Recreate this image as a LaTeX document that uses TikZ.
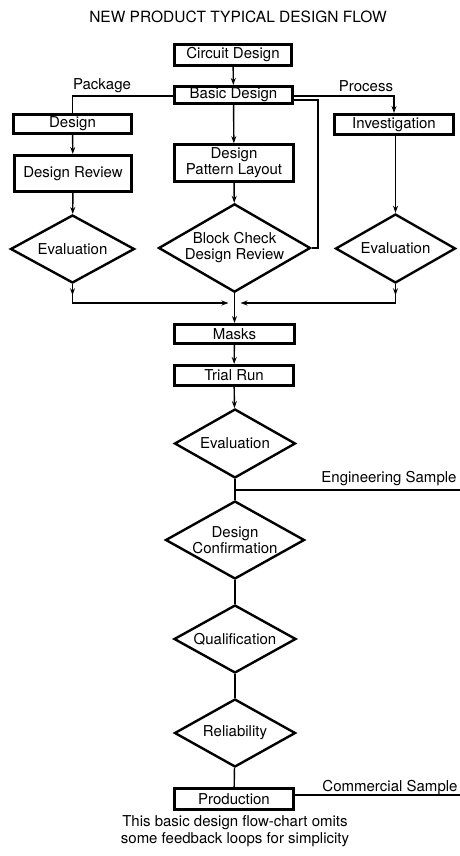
\documentclass[tikz,border=0pt]{standalone}
\usepackage{fontspec}
\setmainfont{TeX Gyre Heros}
\usetikzlibrary{shapes.geometric,arrows.meta}
\begin{document}
\begin{tikzpicture}[x=1pt,y=-1pt,
  every node/.style={font=\fontsize{15}{16}\selectfont},
  box/.style={draw,line width=2.6pt,inner sep=0pt,align=center},
  dia/.style={draw,diamond,line width=2.4pt,inner sep=0pt,align=center},
  lbl/.style={inner sep=0pt},
  conn/.style={line width=1.4pt},
  arr/.style={conn,-{Stealth[length=7pt,width=5pt]}}]
\useasboundingbox (0,0) rectangle (460,856);
% title
\node[lbl,font=\fontsize{15.5}{17}\selectfont] (title) at (238,17) {NEW PRODUCT TYPICAL DESIGN FLOW};
% boxes
\node[box,minimum width=117pt,minimum height=21pt] (circ) at (233,55) {Circuit Design};
\node[box,minimum width=118pt,minimum height=17.5pt] (basic) at (233.5,95) {Basic Design};
\node[box,minimum width=118pt,minimum height=19.5pt] (desl) at (72.5,124) {Design};
\node[box,minimum width=119pt,minimum height=20.5pt] (inv) at (394,124.5) {Investigation};
\node[box,minimum width=117.5pt,minimum height=36.5pt] (drev) at (73,173.5) {Design Review};
\node[box,minimum width=119pt,minimum height=37pt] (lay) at (234,163) {Design\\Pattern Layout};
\node[box,minimum width=120pt,minimum height=19.5pt] (masks) at (234.5,334) {Masks};
\node[box,minimum width=119pt,minimum height=20.5pt] (trial) at (234,375.5) {Trial Run};
\node[box,minimum width=119pt,minimum height=21pt] (prod) at (234,799) {Production};
% diamonds
\node[dia,shape aspect=1.8,minimum width=124pt,minimum height=68pt] (evl) at (72.5,249) {Evaluation};
\node[dia,shape aspect=1.72,minimum width=150pt,minimum height=86pt] (blk) at (234.5,248) {Block Check\\Design Review};
\node[dia,shape aspect=1.72,minimum width=120pt,minimum height=69pt] (evr) at (395.5,248.5) {Evaluation};
\node[dia,shape aspect=1.72,minimum width=121pt,minimum height=69pt] (ev) at (235,443.5) {Evaluation};
\node[dia,shape aspect=1.76,minimum width=139pt,minimum height=78pt] (conf) at (235,540) {Design\\Confirmation};
\node[dia,shape aspect=1.76,minimum width=122pt,minimum height=68pt] (qual) at (235,639) {Qualification};
\node[dia,shape aspect=1.75,minimum width=121pt,minimum height=68pt] (rel) at (235,733) {Reliability};
% labels
\node[lbl] (pkg) at (102,86) {Package};
\node[lbl] (proc) at (366,86) {Process};
\node[lbl] (eng) at (389,479) {Engineering Sample};
\node[lbl] (com) at (390,788) {Commercial Sample};
\node[lbl,align=center,font=\fontsize{15}{16.5}\selectfont] (cap) at (235,831) {This basic design flow-chart omits\\some feedback loops for simplicity};
% coordinates
\coordinate (jn) at (234.5,303);
\coordinate (engend) at (460,490);
\coordinate (comend) at (460,795);
% connectors
\draw[arr] (circ) -- (basic);
\draw[conn] (basic.west |- 0,96) -| (desl.north);
\draw[arr] (basic.east |- 0,96) -| (inv.north);
\draw[conn] (basic.east |- 0,100) -| (318,248) -- (blk.east);
\draw[arr] (basic) -- (lay);
\draw[arr] (desl) -- (drev);
\draw[arr] (drev) -- (evl);
\draw[arr] (lay) -- (blk);
\draw[arr] (inv.south -| evr.north) -- (evr.north);
\draw[arr] (evl.south) -- ++(0,11);
\draw[arr] (evl.south) |- ([xshift=-6pt]jn);
\draw[arr] (evr.south) -- ++(0,11);
\draw[arr] (evr.south) |- ([xshift=6pt]jn);
\draw[arr] (blk.south) -- (masks.north);
\draw[arr] (masks) -- (trial);
\draw[arr] (trial) -- (ev);
\draw[conn] (ev) -- (conf);
\draw[conn] (ev.south |- engend) -- (engend);
\draw[conn] (conf) -- (qual);
\draw[conn] (qual) -- (rel);
\draw[conn] (rel) -- (prod);
\draw[conn] (prod.east |- comend) -- (comend);
\end{tikzpicture}
\end{document}
